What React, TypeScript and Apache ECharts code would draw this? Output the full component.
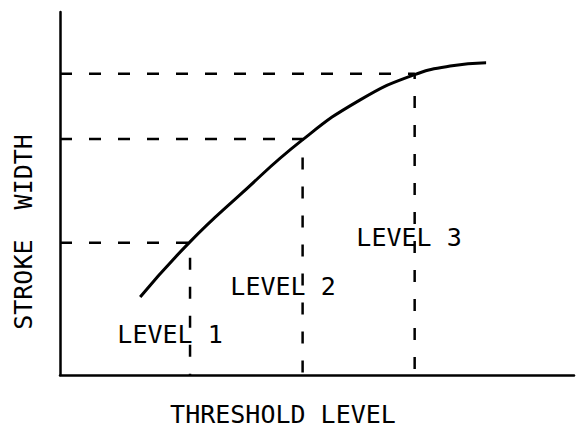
import React, { useEffect, useRef } from "react";
import * as echarts from "echarts";

// Curve: threshold level (x) vs stroke width (y), arbitrary units 0..10
const curveX = [1.56, 2.51, 3.5, 4.71, 5.84, 6.87, 7.59, 8.29];
const curveY = [2.15, 3.64, 4.96, 6.47, 7.58, 8.26, 8.51, 8.6];

// Threshold levels marked on the curve
const levelNames = ["LEVEL 1", "LEVEL 2", "LEVEL 3"];
const levelX = [2.53, 4.72, 6.9];
const levelY = [3.64, 6.5, 8.3];

const xAxisName = "THRESHOLD LEVEL";
const yAxisName = "STROKE  WIDTH";

const FONT = "DejaVu Sans Mono";

export default function App() {
  const ref = useRef<HTMLDivElement>(null);
  useEffect(() => {
    if (!ref.current) return;
    const chart = echarts.init(ref.current, null, { renderer: "svg" });
    const curve = curveX.map((x, i) => [x, curveY[i]]);
    const guideSeries = levelX.map((x, i) => ({
      type: "line",
      data: [
        [0, levelY[i]],
        [x, levelY[i]],
        [x, 0],
      ],
      symbol: "none",
      silent: true,
      lineStyle: { color: "#000", width: 2.5, type: [12, 17] },
      z: 1,
    }));
    const textStyle = (t: string) => ({
      text: t,
      font: `25px '${FONT}'`,
      fill: "#000",
      align: "center",
      verticalAlign: "middle",
    });
    chart.setOption({
      animation: false,
      backgroundColor: "#fff",
      grid: { left: 60, right: 7, top: 12, bottom: 57 },
      xAxis: {
        type: "value",
        min: 0,
        max: 10,
        axisLine: { show: true, lineStyle: { color: "#000", width: 2.5 } },
        axisTick: { show: false },
        axisLabel: { show: false },
        splitLine: { show: false },
      },
      yAxis: {
        type: "value",
        min: 0,
        max: 10,
        axisLine: { show: true, lineStyle: { color: "#000", width: 2.5 } },
        axisTick: { show: false },
        axisLabel: { show: false },
        splitLine: { show: false },
      },
      series: [
        {
          type: "line",
          data: curve,
          smooth: 0.5,
          symbol: "none",
          lineStyle: { color: "#000", width: 3 },
          z: 3,
        },
        ...guideSeries,
      ],
      graphic: [
        { type: "text", x: 283, y: 414, style: textStyle(xAxisName) },
        { type: "text", x: 23, y: 232, rotation: Math.PI / 2, style: textStyle(yAxisName) },
        { type: "text", x: 170, y: 334, style: textStyle(levelNames[0]) },
        { type: "text", x: 283, y: 286, style: textStyle(levelNames[1]) },
        { type: "text", x: 409, y: 237, style: textStyle(levelNames[2]) },
      ],
    });
    return () => chart.dispose();
  }, []);
  return <div ref={ref} style={{ width: 581, height: 432, position: "absolute", left: 0, top: 0 }} />;
}
